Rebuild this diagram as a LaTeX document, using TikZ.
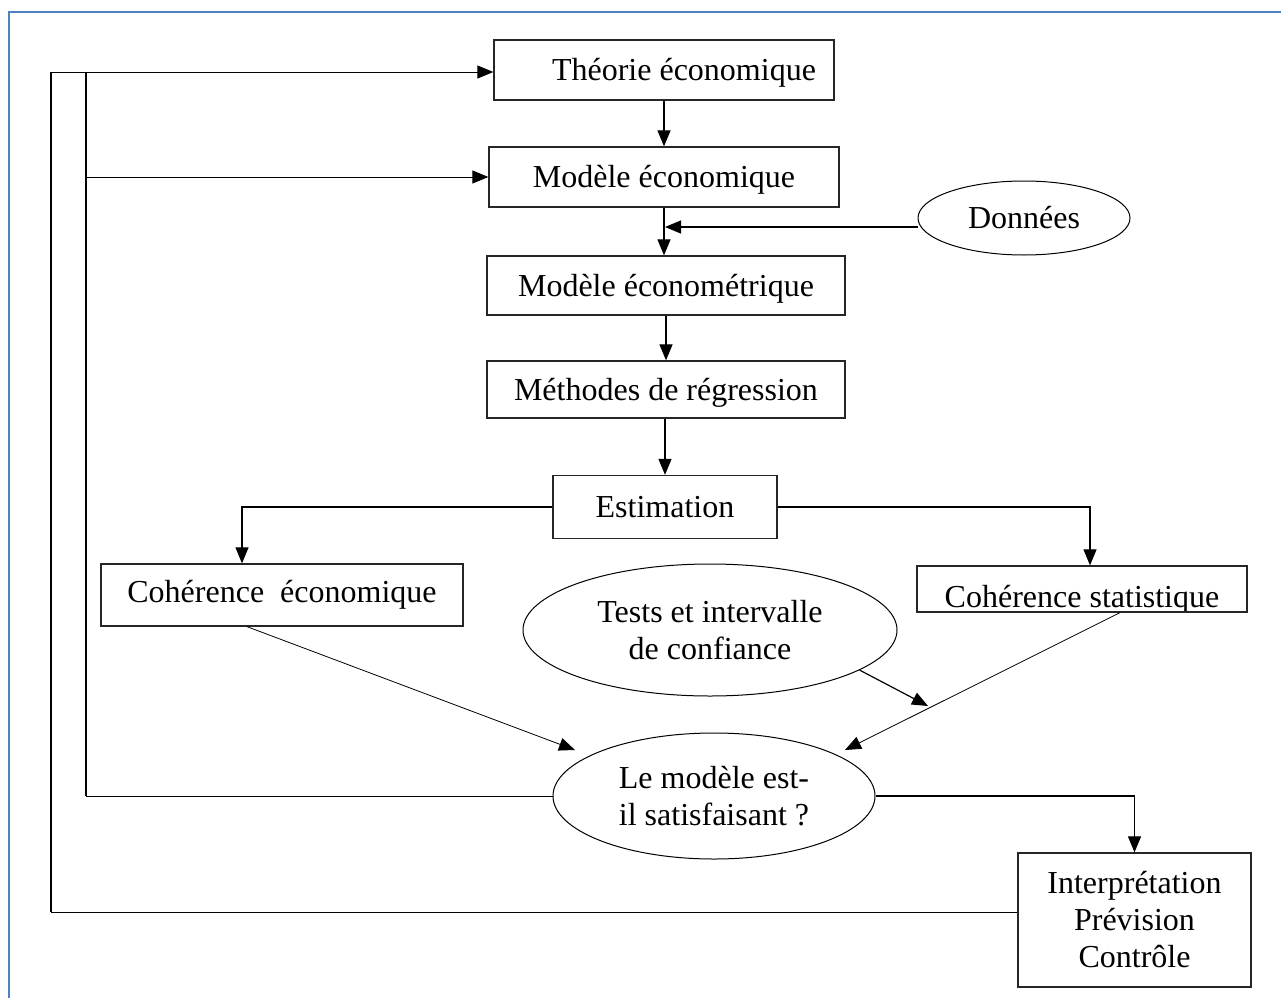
\documentclass[tikz,border=0pt]{standalone}
\usepackage{fontspec}
\setmainfont{Liberation Serif}
\usetikzlibrary{arrows.meta,shapes.geometric,calc}
\definecolor{frameblue}{RGB}{79,129,189}
\begin{document}
\begin{tikzpicture}[x=1pt,y=-1pt,
  txt/.style={font=\fontsize{32}{37}\selectfont},
  low/.style={text height=24pt,text depth=3pt},
  box/.style={draw=black!85,line width=1.3pt,rectangle,inner sep=0pt,txt},
  oval/.style={draw=black,line width=1pt,ellipse,inner sep=0pt,txt,align=center},
  tip/.style={-{Triangle[length=16pt,width=13pt]}},
  arr/.style={line width=1.2pt,tip},
  thinarr/.style={line width=0.8pt,tip},
  thinline/.style={line width=0.8pt},
  loopline/.style={line width=2.2pt}]
\useasboundingbox (0,0) rectangle (1281,998);

% page frame
\draw[frameblue,line width=2.5pt] (9,998) -- (9,12) -- (1281,12);

% boxes of the main chain
\node[box,minimum width=340,minimum height=60] (theorie) at (664,70) {};
\node[txt,low] (theorieT) at (684,70) {Théorie économique};
\node[box,low,minimum width=350,minimum height=60] (modeco) at (664,177) {Modèle économique};
\node[box,low,minimum width=358,minimum height=59] (modmet) at (666,285.5) {Modèle économétrique};
\node[box,low,minimum width=358,minimum height=57] (methodes) at (666,389.5) {Méthodes de régression};
\node[box,minimum width=224,minimum height=63] (estim) at (665,507) {Estimation};
\node[box,minimum width=362,minimum height=62] (coheco) at (282,595) {Cohérence\ \ économique};
\node[box,minimum width=330,minimum height=46,
      path picture={\node[txt,anchor=base] at ([yshift=-18pt]path picture bounding box.center) {Cohérence statistique};}]
      (cohstat) at (1082,589) {};
\node[box,minimum width=233,minimum height=134,align=center] (interp) at (1134.5,920)
      {Interprétation\\Prévision\\Contrôle};

% ellipses
\node[oval,minimum width=212,minimum height=74] (donnees) at (1024,218) {Données};
\node[oval,minimum width=374,minimum height=132] (tests) at (710,630) {Tests et intervalle\\de confiance};
\node[oval,minimum width=322,minimum height=126] (sat) at (714,796) {Le modèle est-\\il satisfaisant ?};

% free ends of connectors
\coordinate (dj) at (665,227);
\coordinate (tipL) at (575,750);
\coordinate (tipR) at (845,750);
\coordinate (tipT) at (928,706);
\coordinate (o1) at (51,72);
\coordinate (o2) at (51,912);
\coordinate (i1) at (86,72);
\coordinate (i2) at (86,796);

% main chain connectors
\draw[arr] (theorie.south) -- (modeco.north);
\draw[arr] (modeco.south) -- (modeco.south |- modmet.north);
\draw[arr] (donnees.west |- dj) -- (dj);
\draw[arr] (modmet.south -| methodes.north) -- (methodes.north);
\draw[arr] (methodes.south -| estim.north) -- (estim.north);
\draw[arr] (estim.west) -| ([xshift=-40pt]coheco.north);
\draw[arr] (estim.east) -| ([xshift=8pt]cohstat.north);
\draw[thinarr] ([xshift=-35pt]coheco.south) -- (tipL);
\draw[thinarr] ([xshift=38pt]cohstat.south) -- (tipR);
\draw[arr] (tests.-15) -- (tipT);
\draw[arr] (sat.east) -| (interp.north);

% feedback loops
\draw[loopline] (o1) -- (o2);
\draw[thinline] (o2) -- (interp.west |- o2);
\draw[thinarr] (o1) -- (theorie.west |- o1);
\draw[loopline] (i1) -- (i2);
\draw[thinline] (i2) -- (sat.west);
\draw[thinarr] (i1 |- modeco.west) -- (modeco.west);
\end{tikzpicture}
\end{document}
